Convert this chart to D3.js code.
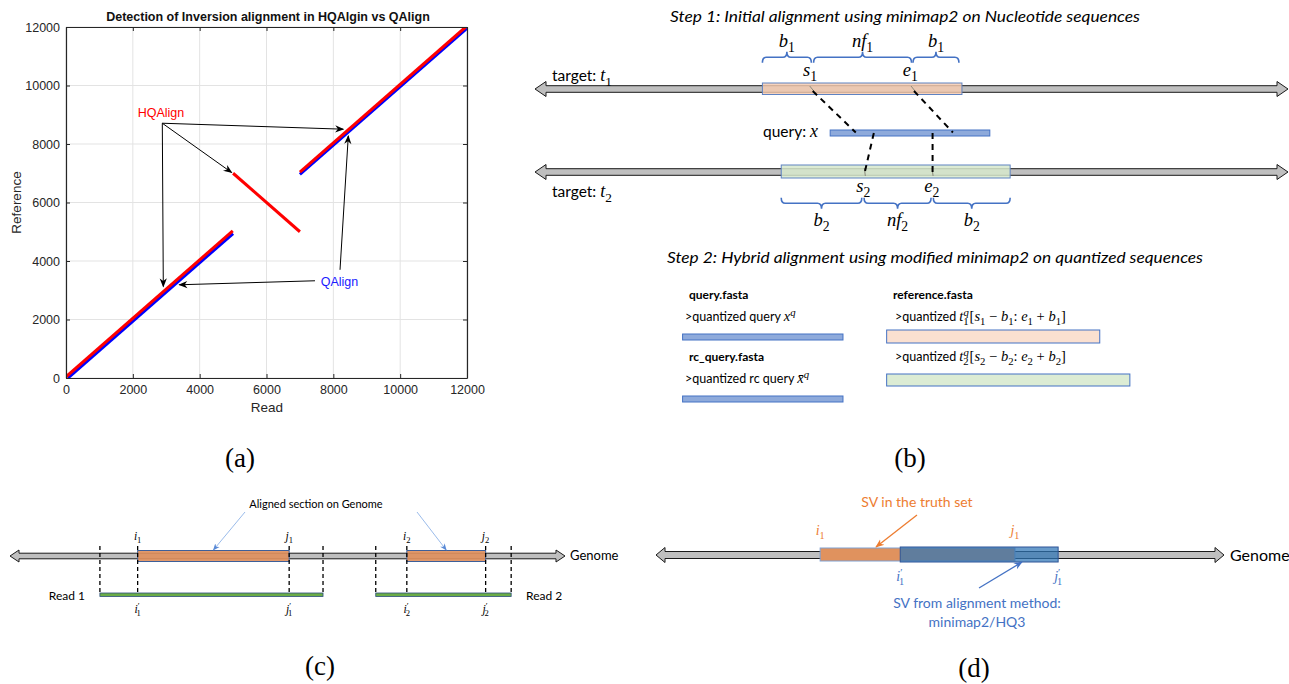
<!DOCTYPE html>
<html><head><meta charset="utf-8">
<script src="https://cdn.jsdelivr.net/npm/d3@7"></script>
<style>body{margin:0;background:#fff} svg{display:block}</style>
</head><body><svg id="c" width="1289" height="684"></svg>
<script>
// ================= DATA =================
// Panel (a): read vs reference coordinates
const axisTicks = [0, 2000, 4000, 6000, 8000, 10000, 12000];
const qalignSegments = [[[60, 0], [5000, 4940]], [[7000, 6960], [12000, 11960]]];
const hqalignSegments = [[[0, 40], [4990, 5030]], [[5000, 7000], [7000, 5000]], [[7000, 7040], [11960, 12000]]];
const hqLabelPos = [2146, 8925];
const hqArrowFrom = [2882, 8710];
const hqArrowTo = [[8298, 8506], [4958, 7023], [2912, 3129]];
const qLabelPos = [7622, 3153];
const qArrows = [[[7451, 3324], [3390, 3187]], [[8200, 3699], [8448, 8277]]];

// Panel (b): positions along sequence (0-100 units)
const t1Region = [30.2, 56.7];
const t1Braces = [[30.2, 36.7, "b", "1"], [37.0, 50.0, "nf", "1"], [50.2, 56.3, "b", "1"]];
const t1Marks = [["s", "1", 36.8], ["e", "1", 50.1]];
const queryRange = [39.2, 60.4];
const t2Region = [32.7, 63.1];
const t2Braces = [[32.7, 43.4, "b", "2"], [43.7, 52.6, "nf", "2"], [52.9, 63.1, "b", "2"]];
const t2Marks = [["s", "2", 43.6], ["e", "2", 52.7]];
const hitsT1 = [[36.75, 42.6], [50.2, 55.5]];   // [t1 pos, query pos]
const hitsT2 = [[45.0, 43.8], [52.8, 52.8]];    // [query pos, t2 pos]
const step2Query = [19.6, 40.9];
const step2Ref1 = [46.7, 75.0];
const step2Ref2 = [46.7, 79.0];

// Panel (c): genome positions (0-100 units)
const reads = [
  {name: "Read 1", start: 16.2, end: 56.4, i: 23.0, j: 50.3, k: "1"},
  {name: "Read 2", start: 65.9, end: 90.3, i: 71.5, j: 85.7, k: "2"}
];

// Panel (d): genome positions (0-100 units)
const truthSV = [28.9, 63.2];
const methodSV = [43.0, 70.8];

// ================= DRAWING =================
const svg = d3.select("#c");
const SANS = "Lato, 'Open Sans', sans-serif";
const SERIF = "'Liberation Serif', 'DejaVu Serif', serif";
const HELV = "'Liberation Sans', Arial, sans-serif";

const defs = svg.append("defs");
function marker(id, color, w, h) {
  defs.append("marker").attr("id", id).attr("viewBox", "0 -5 10 10")
    .attr("refX", 9).attr("refY", 0).attr("markerWidth", w).attr("markerHeight", h)
    .attr("markerUnits", "userSpaceOnUse").attr("orient", "auto")
    .append("path").attr("d", "M0,-4L10,0L0,4L3,0Z").attr("fill", color);
}
marker("arrK", "#000", 10, 9);
marker("arrLB", "#5a8ad6", 7, 7);
marker("arrO", "#ed7d31", 9, 9);
marker("arrB", "#4472c4", 9, 9);

// rich math text helper
function rich(g, x, y, parts, size, opts = {}) {
  const t = g.append("text").attr("x", x).attr("y", y)
    .attr("font-size", size).attr("fill", opts.fill || "#000")
    .attr("text-anchor", opts.anchor || "start")
    .attr("font-family", opts.family || SANS);
  let shift = 0;
  parts.forEach(p => {
    const [txt, kind, dx] = p;
    const ts = t.append("tspan").text(txt);
    let target = 0, fs = size;
    if (kind && kind.includes("sub")) { target = size * 0.3; fs = size * 0.74; }
    if (kind && kind.includes("sup")) { target = -size * 0.4; fs = size * 0.74; }
    const isMath = kind && (kind.includes("i") || kind.includes("m"));
    if (isMath) fs *= 1.16;
    ts.attr("dy", target - shift); shift = target;
    ts.attr("font-size", fs);
    if (isMath) ts.attr("font-family", SERIF);
    if (kind && kind.includes("i")) ts.attr("font-style", "italic");
    if (dx) ts.attr("dx", dx);
  });
  return t;
}

function blockArrow(g, x0, x1, cy, h, H, L) {
  const pts = [[x0, cy], [x0 + L, cy - H], [x0 + L, cy - h], [x1 - L, cy - h], [x1 - L, cy - H], [x1, cy],
    [x1 - L, cy + H], [x1 - L, cy + h], [x0 + L, cy + h], [x0 + L, cy + H]];
  g.append("polygon").attr("points", pts.map(p => p.join(",")).join(" "))
    .attr("fill", "#bfbfbf").attr("stroke", "#1a1a1a").attr("stroke-width", 1);
}

// ---------- Panel (a) ----------
const gA = svg.append("g");
const xA = d3.scaleLinear().domain([0, 12000]).range([66, 467]);
const yA = d3.scaleLinear().domain([0, 12000]).range([378, 27]);
defs.append("clipPath").attr("id", "clipA").append("rect")
  .attr("x", 66).attr("y", 27).attr("width", 401).attr("height", 351);

gA.append("g").selectAll("line.gx").data(axisTicks).join("line")
  .attr("x1", d => xA(d)).attr("x2", d => xA(d)).attr("y1", yA(0)).attr("y2", yA(12000))
  .attr("stroke", "#e3e3e3").attr("stroke-width", 1);
gA.append("g").selectAll("line.gy").data(axisTicks).join("line")
  .attr("y1", d => yA(d)).attr("y2", d => yA(d)).attr("x1", xA(0)).attr("x2", xA(12000))
  .attr("stroke", "#e3e3e3").attr("stroke-width", 1);

const lineA = d3.line().x(d => xA(d[0])).y(d => yA(d[1]));
const plotG = gA.append("g").attr("clip-path", "url(#clipA)");
plotG.selectAll("path.q").data(qalignSegments).join("path")
  .attr("d", lineA).attr("stroke", "#0000ff").attr("stroke-width", 3).attr("fill", "none");
plotG.selectAll("path.h").data(hqalignSegments).join("path")
  .attr("d", lineA).attr("stroke", "#ff0000").attr("stroke-width", 3).attr("fill", "none");

// axes (box with inward ticks)
const axCol = "#262626";
function styleAxis(sel) {
  sel.selectAll("path").attr("stroke", axCol);
  sel.selectAll("line").attr("stroke", axCol);
  sel.selectAll("text").attr("fill", axCol).attr("font-family", HELV).attr("font-size", 12.5);
}
gA.append("g").attr("transform", `translate(0,${yA(0)})`)
  .call(d3.axisBottom(xA).tickValues(axisTicks).tickFormat(d3.format("d")).tickSizeInner(-4).tickSizeOuter(0).tickPadding(7))
  .call(styleAxis);
gA.append("g").attr("transform", `translate(${xA(0)},0)`)
  .call(d3.axisLeft(yA).tickValues(axisTicks).tickFormat(d3.format("d")).tickSizeInner(-4).tickSizeOuter(0).tickPadding(6))
  .call(styleAxis);
gA.append("g").attr("transform", `translate(0,${yA(12000)})`)
  .call(d3.axisTop(xA).tickValues(axisTicks).tickFormat("").tickSizeInner(-4).tickSizeOuter(0))
  .call(styleAxis);
gA.append("g").attr("transform", `translate(${xA(12000)},0)`)
  .call(d3.axisRight(yA).tickValues(axisTicks).tickFormat("").tickSizeInner(-4).tickSizeOuter(0))
  .call(styleAxis);
gA.selectAll(".domain").attr("stroke-width", 1.2);

gA.append("text").attr("x", 268).attr("y", 21).attr("text-anchor", "middle")
  .attr("font-family", HELV).attr("font-weight", "bold").attr("font-size", 12.5).attr("fill", "#111")
  .text("Detection of Inversion alignment in HQAlgin vs QAlign");
gA.append("text").attr("x", 267).attr("y", 412).attr("text-anchor", "middle")
  .attr("font-family", HELV).attr("font-size", 13.5).attr("fill", axCol).text("Read");
gA.append("text").attr("transform", `translate(21,${(27 + 378) / 2}) rotate(-90)`).attr("text-anchor", "middle")
  .attr("font-family", HELV).attr("font-size", 13.5).attr("fill", axCol).text("Reference");

gA.append("text").attr("x", xA(hqLabelPos[0])).attr("y", yA(hqLabelPos[1]))
  .attr("font-family", HELV).attr("font-size", 12.5).attr("fill", "#ff0000").text("HQAlign");
gA.append("text").attr("x", xA(qLabelPos[0])).attr("y", yA(qLabelPos[1]))
  .attr("font-family", HELV).attr("font-size", 12.5).attr("fill", "#1a1aff").text("QAlign");
hqArrowTo.forEach(t => {
  gA.append("line").attr("x1", xA(hqArrowFrom[0])).attr("y1", yA(hqArrowFrom[1]))
    .attr("x2", xA(t[0])).attr("y2", yA(t[1])).attr("stroke", "#000").attr("stroke-width", 1)
    .attr("marker-end", "url(#arrK)");
});
qArrows.forEach(a => {
  gA.append("line").attr("x1", xA(a[0][0])).attr("y1", yA(a[0][1]))
    .attr("x2", xA(a[1][0])).attr("y2", yA(a[1][1])).attr("stroke", "#000").attr("stroke-width", 1)
    .attr("marker-end", "url(#arrK)");
});

// ---------- Panel (b) ----------
const gB = svg.append("g");
const xB = d3.scaleLinear().domain([0, 100]).range([535, 1288]);
const braceCol = "#4472c4";

gB.append("text").attr("x", 905).attr("y", 22).attr("text-anchor", "middle")
  .attr("font-family", SANS).attr("font-style", "italic").attr("font-size", 15)
  .attr("textLength", 470).attr("lengthAdjust", "spacingAndGlyphs")
  .text("Step 1: Initial alignment using minimap2 on Nucleotide sequences");

function brace(g, x0, x1, y, d) {
  const m = (x0 + x1) / 2, r = 4;
  const p = `M${x0},${y - d * 5.5} Q${x0},${y} ${x0 + r},${y} L${m - r},${y} Q${m},${y} ${m},${y + d * 5.5} ` +
    `M${m},${y + d * 5.5} Q${m},${y} ${m + r},${y} L${x1 - r},${y} Q${x1},${y} ${x1},${y - d * 5.5}`;
  g.append("path").attr("d", p).attr("fill", "none").attr("stroke", braceCol).attr("stroke-width", 1.6);
}

// target t1
blockArrow(gB, xB(0), xB(100), 89, 3.3, 7.5, 11);
gB.append("rect").attr("x", xB(t1Region[0])).attr("y", 83).attr("width", xB(t1Region[1]) - xB(t1Region[0]))
  .attr("height", 11.5).attr("fill", "#f4c9ae").attr("fill-opacity", 0.82).attr("stroke", "#5f83c2").attr("stroke-width", 1);
t1Braces.forEach(b => {
  brace(gB, xB(b[0]), xB(b[1]), 57.3, -1);
  rich(gB, (xB(b[0]) + xB(b[1])) / 2, 47, [[b[2], "i"], [b[3], "sub m"]], 16, {anchor: "middle"});
});
t1Marks.forEach(m => {
  rich(gB, xB(m[2]) - 2, 76, [[m[0], "i"], [m[1], "sub m"]], 16, {anchor: "middle"});
});
rich(gB, 552, 81, [["target: ", ""], ["t", "i"], ["1", "sub m"]], 15.5);

// query
gB.append("rect").attr("x", xB(queryRange[0])).attr("y", 130).attr("width", xB(queryRange[1]) - xB(queryRange[0]))
  .attr("height", 6).attr("fill", "#8eaadb").attr("stroke", "#4472c4").attr("stroke-width", 1);
rich(gB, 818, 137, [["query: ", ""], ["x", "i"]], 15.5, {anchor: "end"});

// target t2
blockArrow(gB, xB(0), xB(100), 172, 3.3, 7.5, 11);
gB.append("rect").attr("x", xB(t2Region[0])).attr("y", 165).attr("width", xB(t2Region[1]) - xB(t2Region[0]))
  .attr("height", 13).attr("fill", "#d6e8cb").attr("fill-opacity", 0.85).attr("stroke", "#5f83c2").attr("stroke-width", 1);
t2Braces.forEach(b => {
  brace(gB, xB(b[0]), xB(b[1]), 203.3, 1);
  rich(gB, (xB(b[0]) + xB(b[1])) / 2, 226, [[b[2], "i"], [b[3], "sub m"]], 16, {anchor: "middle"});
});
t2Marks.forEach(m => {
  rich(gB, xB(m[2]), 192, [[m[0], "i"], [m[1], "sub m"]], 16, {anchor: "middle"});
});
rich(gB, 552, 197, [["target: ", ""], ["t", "i"], ["2", "sub m"]], 15.5);

// small grey marks & dashed links
const markCol = "#8a8a7a";
hitsT1.forEach(h => {
  gB.append("line").attr("x1", xB(h[0]) - 2).attr("y1", 86).attr("x2", xB(h[0]) + 2).attr("y2", 91)
    .attr("stroke", markCol).attr("stroke-width", 1);
  gB.append("line").attr("x1", xB(h[0]) + 1).attr("y1", 91).attr("x2", xB(h[1])).attr("y2", 132.5)
    .attr("stroke", "#000").attr("stroke-width", 2).attr("stroke-dasharray", "6,5");
});
hitsT2.forEach(h => {
  gB.append("line").attr("x1", xB(h[1]) - 0.5).attr("y1", 168).attr("x2", xB(h[1]) + 0.5).attr("y2", 176)
    .attr("stroke", markCol).attr("stroke-width", 1);
  gB.append("line").attr("x1", xB(h[0])).attr("y1", 133).attr("x2", xB(h[1])).attr("y2", 172)
    .attr("stroke", "#000").attr("stroke-width", 2).attr("stroke-dasharray", "6,5");
});

// step 2
gB.append("text").attr("x", 935).attr("y", 263).attr("text-anchor", "middle")
  .attr("font-family", SANS).attr("font-style", "italic").attr("font-size", 15)
  .attr("textLength", 536).attr("lengthAdjust", "spacingAndGlyphs")
  .text("Step 2: Hybrid alignment using modified minimap2 on quantized sequences");
const boldT = (x, y, s) => gB.append("text").attr("x", x).attr("y", y).attr("font-family", SANS)
  .attr("font-weight", "bold").attr("font-size", 12).text(s);
boldT(689, 299, "query.fasta");
boldT(689, 361, "rc_query.fasta");
boldT(893, 299, "reference.fasta");
rich(gB, 685, 321, [[">quantized query ", ""], ["x", "i"], ["q", "sup i"]], 12.5);
rich(gB, 685, 383, [[">quantized rc query ", ""], ["x̄", "i"], ["q", "sup i"]], 12.5);
rich(gB, 895, 321, [[">quantized ", ""], ["t", "i"], ["q", "sup i"], ["1", "sub m", -5.5], ["[", "m", 1], ["s", "i"], ["1", "sub m"],
  [" − ", "m"], ["b", "i"], ["1", "sub m"], [": ", "m"], ["e", "i"], ["1", "sub m"], [" + ", "m"], ["b", "i"], ["1", "sub m"], ["]", "m"]], 12.5);
rich(gB, 895, 361, [[">quantized ", ""], ["t", "i"], ["q", "sup i"], ["2", "sub m", -5.5], ["[", "m", 1], ["s", "i"], ["2", "sub m"],
  [" − ", "m"], ["b", "i"], ["2", "sub m"], [": ", "m"], ["e", "i"], ["2", "sub m"], [" + ", "m"], ["b", "i"], ["2", "sub m"], ["]", "m"]], 12.5);
[[step2Query, 334, "#8eaadb"], [step2Query, 396, "#8eaadb"]].forEach(r => {
  gB.append("rect").attr("x", xB(r[0][0])).attr("y", r[1]).attr("width", xB(r[0][1]) - xB(r[0][0]))
    .attr("height", 6).attr("fill", r[2]).attr("stroke", "#4472c4").attr("stroke-width", 1);
});
gB.append("rect").attr("x", xB(step2Ref1[0])).attr("y", 330).attr("width", xB(step2Ref1[1]) - xB(step2Ref1[0]))
  .attr("height", 13).attr("fill", "#fbe0d0").attr("stroke", "#4472c4").attr("stroke-width", 1);
gB.append("rect").attr("x", xB(step2Ref2[0])).attr("y", 374).attr("width", xB(step2Ref2[1]) - xB(step2Ref2[0]))
  .attr("height", 12).attr("fill", "#dcecd4").attr("stroke", "#4472c4").attr("stroke-width", 1);

// ---------- Panel (c) ----------
const gC = svg.append("g");
const xC = d3.scaleLinear().domain([0, 100]).range([10, 565]);
blockArrow(gC, xC(0), xC(100), 556, 2.8, 6, 9);
gC.append("text").attr("x", 570).attr("y", 560).attr("font-family", SANS).attr("font-size", 13).text("Genome");
reads.forEach(r => {
  gC.append("rect").attr("x", xC(r.i)).attr("y", 550.5).attr("width", xC(r.j) - xC(r.i)).attr("height", 11)
    .attr("fill", "#df8f5c").attr("fill-opacity", 0.9).attr("stroke", "#3d5f99").attr("stroke-width", 1);
  [r.start, r.i, r.j, r.end].forEach(p => {
    gC.append("line").attr("x1", xC(p)).attr("x2", xC(p)).attr("y1", 546).attr("y2", 594)
      .attr("stroke", "#000").attr("stroke-width", 1.3).attr("stroke-dasharray", "4,3");
  });
  gC.append("rect").attr("x", xC(r.start)).attr("y", 593).attr("width", xC(r.end) - xC(r.start)).attr("height", 3.5)
    .attr("fill", "#6aac46").attr("stroke", "#2f4f7f").attr("stroke-width", 0.8);
  rich(gC, xC(r.i), 540, [["i", "i"], [r.k, "sub m"]], 10, {anchor: "middle"});
  rich(gC, xC(r.j), 540, [["j", "i"], [r.k, "sub m"]], 10, {anchor: "middle"});
  rich(gC, xC(r.i), 613, [["i", "i"], ["′", "sup m"], [r.k, "sub m", -3]], 10, {anchor: "middle"});
  rich(gC, xC(r.j), 613, [["j", "i"], ["′", "sup m"], [r.k, "sub m", -3]], 10, {anchor: "middle"});
});
gC.append("text").attr("x", 85).attr("y", 600).attr("text-anchor", "end").attr("font-family", SANS).attr("font-size", 12).text("Read 1");
gC.append("text").attr("x", 526).attr("y", 600).attr("font-family", SANS).attr("font-size", 12).text("Read 2");
gC.append("text").attr("x", 316).attr("y", 508).attr("text-anchor", "middle").attr("font-family", SANS).attr("font-size", 11)
  .text("Aligned section on Genome");
[[(reads[0].i + reads[0].j) / 2, 245], [(reads[1].i + reads[1].j) / 2, 417]].forEach(a => {
  gC.append("line").attr("x1", a[1]).attr("y1", 512).attr("x2", xC(a[0])).attr("y2", 550)
    .attr("stroke", "#8fb3e8").attr("stroke-width", 0.9).attr("marker-end", "url(#arrLB)");
});

// ---------- Panel (d) ----------
const gD = svg.append("g");
const xD = d3.scaleLinear().domain([0, 100]).range([656, 1224]);
blockArrow(gD, xD(0), xD(100), 555, 3.5, 7.5, 9);
gD.append("text").attr("x", 1230).attr("y", 561).attr("font-family", SANS).attr("font-size", 16).text("Genome");
gD.append("rect").attr("x", xD(truthSV[0])).attr("y", 548).attr("width", xD(truthSV[1]) - xD(truthSV[0])).attr("height", 13)
  .attr("fill", "#e0925e").attr("stroke", "#7f9fd0").attr("stroke-width", 1);
gD.append("rect").attr("x", xD(methodSV[0])).attr("y", 547).attr("width", xD(methodSV[1]) - xD(methodSV[0])).attr("height", 15)
  .attr("fill", "#2e75b6").attr("fill-opacity", 0.72).attr("stroke", "#2f5597").attr("stroke-width", 1);
rich(gD, xD(truthSV[0]), 535, [["i", "i"], ["1", "sub m"]], 12, {anchor: "middle", fill: "#ed7d31"});
rich(gD, xD(truthSV[1]), 535, [["j", "i"], ["1", "sub m"]], 12, {anchor: "middle", fill: "#ed7d31"});
rich(gD, xD(methodSV[0]), 581, [["i", "i"], ["′", "sup m"], ["1", "sub m", -3.5]], 12, {anchor: "middle", fill: "#4472c4"});
rich(gD, xD(methodSV[1]), 581, [["j", "i"], ["′", "sup m"], ["1", "sub m", -3.5]], 12, {anchor: "middle", fill: "#4472c4"});
gD.append("text").attr("x", 917).attr("y", 507).attr("text-anchor", "middle").attr("font-family", SANS)
  .attr("font-size", 14).attr("fill", "#ed7d31").text("SV in the truth set");
gD.append("line").attr("x1", 917).attr("y1", 515).attr("x2", 876).attr("y2", 547)
  .attr("stroke", "#ed7d31").attr("stroke-width", 1.3).attr("marker-end", "url(#arrO)");
gD.append("text").attr("x", 977).attr("y", 608).attr("text-anchor", "middle").attr("font-family", SANS)
  .attr("font-size", 14).attr("fill", "#4472c4").text("SV from alignment method:");
gD.append("text").attr("x", 977).attr("y", 627).attr("text-anchor", "middle").attr("font-family", SANS)
  .attr("font-size", 14).attr("fill", "#4472c4").text("minimap2/HQ3");
gD.append("line").attr("x1", 979).attr("y1", 588).attr("x2", 1022).attr("y2", 562)
  .attr("stroke", "#4472c4").attr("stroke-width", 1.3).attr("marker-end", "url(#arrB)");

// ---------- sub-figure labels ----------
[["(a)", 240, 467], ["(b)", 910, 467], ["(c)", 320, 675], ["(d)", 974, 677]].forEach(l => {
  svg.append("text").attr("x", l[1]).attr("y", l[2]).attr("text-anchor", "middle")
    .attr("font-family", SERIF).attr("font-size", 27).text(l[0]);
});
</script></body></html>
